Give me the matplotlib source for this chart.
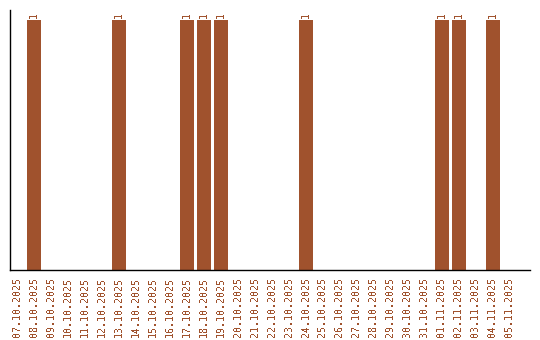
import matplotlib
matplotlib.use('Agg')
import matplotlib.pyplot as plt

plt.rcParams['font.family'] = 'DejaVu Sans Mono'
plt.rcParams['text.antialiased'] = False

dates = ['07.10.2025', '08.10.2025', '09.10.2025', '10.10.2025', '11.10.2025',
         '12.10.2025', '13.10.2025', '14.10.2025', '15.10.2025', '16.10.2025',
         '17.10.2025', '18.10.2025', '19.10.2025', '20.10.2025', '21.10.2025',
         '22.10.2025', '23.10.2025', '24.10.2025', '25.10.2025', '26.10.2025',
         '27.10.2025', '28.10.2025', '29.10.2025', '30.10.2025', '31.10.2025',
         '01.11.2025', '02.11.2025', '03.11.2025', '04.11.2025', '05.11.2025']
counts = [0, 1, 0, 0, 0, 0, 1, 0, 0, 0,
          1, 1, 1, 0, 0, 0, 0, 1, 0, 0,
          0, 0, 0, 0, 0, 1, 1, 0, 1, 0]

color = '#A0522D'

fig = plt.figure(figsize=(5.4, 3.4), dpi=100)
ax = fig.add_axes([10 / 540, 70 / 340, 520 / 540, 260 / 340])

x = list(range(len(dates)))
bars = ax.bar(x, counts, width=0.82, color=color, antialiased=False)
for xi, c in zip(x, counts):
    if c > 0:
        ax.text(xi, c + 0.008, str(c), rotation=90, ha='center', va='bottom',
                fontsize=7, color=color)

ax.set_xlim(-0.41, 30.2)
ax.set_ylim(0, 1.04)
ax.set_xticks(x)
ax.set_xticklabels(dates, rotation=90, fontsize=7.2, color=color)
ax.tick_params(axis='x', length=0, pad=5)
ax.set_yticks([])
ax.spines['top'].set_visible(False)
ax.spines['right'].set_visible(False)
ax.spines['left'].set_linewidth(1)
ax.spines['bottom'].set_linewidth(1)

plt.savefig('out.png', dpi=100)
